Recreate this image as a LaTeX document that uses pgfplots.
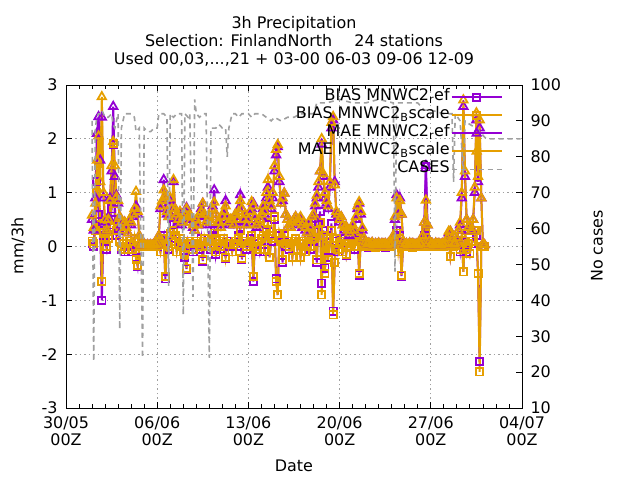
\documentclass[border=0pt]{standalone}
\usepackage{fontspec}
\setmainfont{DejaVu Sans}
\usepackage{pgfplots}
\pgfplotsset{compat=1.18}
\usepackage{pgfplotstable}
\definecolor{cpurple}{RGB}{148,0,211}
\definecolor{corange}{RGB}{230,159,0}
\definecolor{cgray}{RGB}{160,160,160}

\pgfplotstableread{
x b1 b2 m1 m2
2.000 0.05 0.10 0.50 0.58
2.125 0.00 0.05 0.30 0.35
2.250 0.40 0.30 0.90 0.80
2.375 1.20 1.00 2.10 1.60
2.500 0.60 1.55 2.41 2.05
2.625 0.30 0.40 1.60 1.20
2.750 -1.00 -0.65 2.40 2.78
2.875 0.20 0.25 0.90 1.00
3.000 0.10 0.15 0.45 0.50
3.125 -0.05 0.00 0.30 0.30
3.250 0.20 0.15 0.55 0.50
3.375 0.40 0.35 0.90 0.85
3.500 0.70 0.90 1.40 1.50
3.625 1.90 1.92 2.60 1.95
3.750 0.50 0.80 1.30 1.50
3.875 0.20 0.30 0.95 0.92
4.000 0.30 0.40 0.80 0.85
4.125 0.10 0.10 0.55 0.55
4.250 -0.05 0.00 0.40 0.45
4.375 0.05 0.05 0.35 0.30
4.500 -0.10 -0.05 0.45 0.45
4.625 0.00 0.05 0.30 0.35
4.750 -0.05 -0.05 0.25 0.25
4.875 0.05 0.10 0.45 0.50
5.000 0.10 0.10 0.40 0.45
5.125 -0.10 -0.05 0.55 0.60
5.250 0.10 0.15 0.65 0.70
5.375 -0.20 -0.25 0.75 1.02
5.500 -0.37 -0.35 0.60 0.65
5.625 0.00 0.02 0.20 0.20
5.750 0.00 0.00 0.03 0.03
5.875 0.00 0.00 0.03 0.03
6.000 0.00 0.00 0.03 0.03
6.125 0.00 0.00 0.02 0.02
6.250 0.00 0.00 0.03 0.03
6.375 0.00 0.00 0.02 0.02
6.500 0.00 0.00 0.03 0.03
6.625 0.00 0.00 0.02 0.02
6.750 0.00 0.00 0.03 0.03
6.875 0.00 0.00 0.02 0.02
7.000 0.00 0.01 0.05 0.05
7.125 0.05 0.05 0.20 0.20
7.250 -0.10 -0.10 0.70 0.75
7.375 0.10 0.15 0.80 0.85
7.500 0.20 0.15 1.24 1.05
7.625 -0.60 -0.56 0.90 0.90
7.750 0.10 0.05 0.60 0.65
7.875 -0.05 0.00 0.55 0.55
8.000 0.20 0.25 0.85 0.90
8.125 0.10 0.10 0.65 0.70
8.250 0.40 0.30 1.20 1.24
8.375 0.15 0.20 0.70 0.70
8.500 -0.10 -0.10 0.55 0.60
8.625 0.05 0.05 0.45 0.50
8.750 0.10 0.15 0.60 0.65
8.875 0.00 0.00 0.40 0.45
9.000 0.05 0.10 0.50 0.55
9.125 -0.20 -0.15 0.65 0.60
9.250 -0.42 -0.40 0.72 0.70
9.375 0.10 0.10 0.55 0.55
9.500 0.00 0.05 0.45 0.45
9.625 0.05 0.05 0.50 0.55
9.750 -0.10 -0.05 0.35 0.40
9.875 0.05 0.05 0.30 0.30
10.000 0.10 0.10 0.45 0.50
10.125 0.05 0.05 0.40 0.40
10.250 -0.05 0.00 0.55 0.60
10.375 0.15 0.10 0.70 0.65
10.500 -0.27 -0.25 0.80 0.80
10.625 0.10 0.15 0.55 0.60
10.750 0.00 0.00 0.40 0.45
10.875 0.05 0.10 0.50 0.50
11.000 0.10 0.10 0.55 0.55
11.125 -0.05 0.00 0.45 0.45
11.250 0.20 0.15 0.75 0.70
11.375 0.30 0.25 1.05 0.82
11.500 -0.15 -0.10 0.60 0.60
11.625 0.05 0.05 0.40 0.45
11.750 0.10 0.10 0.45 0.45
11.875 -0.05 0.00 0.35 0.35
12.000 0.05 0.10 0.50 0.55
12.125 0.15 0.15 0.60 0.65
12.250 -0.22 -0.20 0.85 0.75
12.375 0.10 0.05 0.55 0.55
12.500 0.00 0.05 0.40 0.45
12.625 0.05 0.05 0.45 0.50
12.750 -0.10 -0.10 0.50 0.50
12.875 0.05 0.05 0.40 0.40
13.000 0.10 0.10 0.55 0.60
13.125 0.00 0.05 0.50 0.50
13.250 0.20 0.15 0.70 0.65
13.375 0.35 0.30 0.96 0.85
13.500 -0.24 -0.22 0.70 0.70
13.625 0.05 0.10 0.45 0.50
13.750 0.10 0.10 0.55 0.60
13.875 -0.05 0.00 0.40 0.40
14.000 0.05 0.05 0.45 0.50
14.125 0.15 0.10 0.60 0.65
14.250 0.20 0.20 0.70 0.83
14.375 -0.65 -0.56 0.80 0.75
14.500 0.05 0.10 0.50 0.55
14.625 0.00 0.00 0.35 0.40
14.750 0.10 0.10 0.40 0.45
14.875 -0.10 -0.05 0.50 0.50
15.000 0.10 0.15 0.55 0.60
15.125 0.20 0.20 0.70 0.75
15.250 -0.10 -0.05 0.60 0.65
15.375 0.30 0.30 0.90 1.00
15.500 0.40 0.45 1.10 1.24
15.625 -0.20 -0.20 0.80 0.85
15.750 0.10 0.15 0.70 0.75
15.875 0.20 0.20 0.90 1.00
16.000 0.50 0.55 1.40 1.50
16.125 -0.60 -0.65 1.70 1.80
16.250 -0.90 -0.90 1.85 1.89
16.375 0.20 0.25 1.20 1.30
16.500 0.10 0.10 0.80 0.80
16.625 -0.30 -0.25 0.85 0.90
16.750 0.20 0.25 0.99 0.99
16.875 0.00 0.05 0.60 0.60
17.000 0.10 0.10 0.50 0.50
17.125 -0.05 0.00 0.40 0.40
17.250 0.05 0.05 0.35 0.35
17.375 -0.20 -0.20 0.45 0.45
17.500 0.10 0.10 0.50 0.50
17.625 0.15 0.15 0.55 0.55
17.750 -0.05 -0.05 0.40 0.45
17.875 0.10 0.10 0.45 0.50
18.000 -0.20 -0.20 0.50 0.55
18.125 0.05 0.05 0.35 0.40
18.250 0.10 0.10 0.40 0.45
18.375 -0.10 -0.10 0.30 0.35
18.500 0.00 0.00 0.25 0.25
18.625 0.10 0.15 0.40 0.45
18.750 -0.05 0.00 0.35 0.35
18.875 0.20 0.20 0.50 0.55
19.000 0.10 0.15 0.55 0.60
19.125 0.30 0.30 0.75 0.80
19.250 -0.30 -0.25 0.90 0.95
19.375 0.40 0.30 1.10 1.20
19.500 0.65 0.45 1.40 1.40
19.625 -0.68 -0.90 1.90 2.00
19.750 0.30 0.20 1.30 1.35
19.875 -0.40 -0.50 0.90 1.00
20.000 0.20 0.15 0.80 0.85
20.125 -0.20 -0.25 0.70 0.75
20.250 0.10 0.10 1.10 1.20
20.375 0.43 0.30 2.20 2.30
20.500 -1.20 -1.27 2.35 2.41
20.625 -0.30 -0.30 1.20 1.14
20.750 0.10 0.15 0.60 0.65
20.875 -0.10 -0.05 0.55 0.60
21.000 0.05 0.05 0.45 0.50
21.125 0.15 0.10 0.55 0.55
21.250 -0.10 -0.10 0.40 0.40
21.375 0.05 0.05 0.30 0.35
21.500 -0.16 -0.15 0.37 0.37
21.625 0.05 0.10 0.30 0.30
21.750 0.00 0.00 0.20 0.25
21.875 0.05 0.05 0.25 0.30
22.000 0.10 0.10 0.35 0.40
22.125 -0.05 0.00 0.30 0.30
22.250 0.15 0.15 0.50 0.55
22.375 0.25 0.20 0.70 0.75
22.500 -0.53 -0.50 0.80 0.83
22.625 0.10 0.10 0.60 0.65
22.750 0.05 0.05 0.30 0.35
22.875 0.00 0.00 0.15 0.15
23.000 0.00 0.00 0.08 0.08
23.125 0.02 0.02 0.05 0.05
23.250 -0.02 0.00 0.06 0.06
23.375 0.00 0.00 0.04 0.04
23.500 0.03 0.03 0.07 0.07
23.625 0.00 0.00 0.03 0.03
23.750 -0.02 -0.02 0.05 0.05
23.875 0.00 0.00 0.04 0.04
24.000 0.01 0.01 0.06 0.06
24.125 0.00 0.00 0.03 0.03
24.250 0.02 0.02 0.05 0.05
24.375 0.00 0.00 0.04 0.04
24.500 -0.01 0.00 0.05 0.05
24.625 0.00 0.00 0.03 0.03
24.750 0.02 0.02 0.06 0.06
24.875 0.00 0.00 0.04 0.04
25.000 0.00 0.00 0.05 0.05
25.125 0.05 0.05 0.20 0.20
25.250 0.15 0.15 0.50 0.55
25.375 0.30 0.25 0.96 0.90
25.500 -0.10 -0.10 0.60 0.65
25.625 0.20 0.15 0.90 0.85
25.750 -0.55 -0.53 0.60 0.60
25.875 0.00 0.00 0.10 0.10
26.000 0.00 0.00 0.04 0.04
26.125 0.01 0.01 0.05 0.05
26.250 0.00 0.00 0.03 0.03
26.375 0.02 0.02 0.06 0.06
26.500 0.00 0.00 0.04 0.04
26.625 -0.01 -0.01 0.05 0.05
26.750 0.00 0.00 0.03 0.03
26.875 0.01 0.01 0.04 0.04
27.000 0.00 0.00 0.03 0.03
27.125 0.02 0.02 0.06 0.06
27.250 0.00 0.00 0.05 0.05
27.375 0.05 0.05 0.20 0.20
27.500 0.20 0.10 0.45 0.45
27.625 1.48 0.30 1.50 0.86
27.750 0.10 0.10 0.40 0.40
27.875 0.00 0.00 0.10 0.10
28.000 0.00 0.00 0.04 0.04
28.125 0.01 0.01 0.05 0.05
28.250 0.00 0.00 0.03 0.03
28.375 0.02 0.02 0.06 0.06
28.500 0.00 0.00 0.04 0.04
28.625 0.01 0.01 0.05 0.05
28.750 0.00 0.00 0.03 0.03
28.875 0.02 0.02 0.05 0.05
29.000 0.00 0.00 0.04 0.04
29.125 0.01 0.01 0.06 0.06
29.250 0.05 0.05 0.15 0.15
29.375 0.10 0.10 0.25 0.28
29.500 -0.19 -0.19 0.28 0.28
29.625 0.05 0.05 0.15 0.15
29.750 0.00 0.00 0.05 0.05
29.875 0.02 0.02 0.06 0.06
30.000 0.05 0.05 0.15 0.15
30.125 0.10 0.10 0.30 0.30
30.250 -0.10 -0.05 0.40 0.45
30.375 0.20 0.25 0.90 1.00
30.500 -0.47 -0.47 2.60 2.72
30.625 0.30 0.30 1.30 1.40
30.750 -0.10 -0.05 0.50 0.50
30.875 0.05 0.05 0.30 0.35
31.000 -0.13 -0.13 0.40 0.40
31.125 0.05 0.10 0.30 0.30
31.250 0.10 0.10 0.50 0.50
31.375 0.30 0.30 1.00 1.10
31.500 0.20 0.30 2.35 2.48
31.625 -0.50 -0.50 1.20 1.30
31.750 -2.14 -2.33 2.20 2.35
31.875 0.00 0.00 0.90 0.90
32.000 0.00 0.00 0.05 0.05
32.125 0.00 0.00 0.03 0.03
}\scores

\pgfplotstableread{
x c
2.000 90
2.125 23
2.250 88
2.375 91
2.500 92
2.625 92
2.750 93
2.875 92
3.000 91
3.250 91
3.500 92
3.625 89
3.750 88
4.000 92
4.125 32
4.250 88
4.500 92
4.750 92
5.000 92
5.250 91
5.375 87
5.625 88
5.875 24
6.000 88
6.250 87
6.500 87
6.750 88
7.000 88
7.125 92
7.500 92
7.750 91
7.875 44
8.000 92
8.250 91
8.500 92
8.875 92
9.000 36
9.125 92
9.375 91
9.500 92
9.750 41
9.875 96
10.000 92
10.250 91
10.500 92
10.750 92
11.000 24
11.125 88
11.500 88
11.750 89
12.000 88
12.250 88
12.375 80
12.500 88
12.750 92
13.000 92
13.250 91
13.500 92
14.000 92
14.250 91
14.500 92
15.000 92
15.375 91
15.750 90
16.000 91
16.500 90
17.000 91
17.500 91
18.000 92
18.500 92
19.000 92
19.250 95
20.000 95
21.000 96
22.000 95
23.000 95
24.000 96
25.125 95
25.250 48
25.375 95
26.000 95
27.000 95
27.500 93
28.000 93
29.000 92
29.625 92
29.750 73
29.875 92
30.250 90
30.500 75
30.625 90
31.000 89
31.500 88
32.000 86
32.250 85
34.900 85
}\cases

\pgfplotsset{
  biasref/.style={cpurple, line width=2bp, mark=square, mark size=3.6bp, mark options={solid, line width=1.8bp}},
  biasbs/.style={corange, line width=2bp, mark=square, mark size=3.6bp, mark options={solid, line width=1.8bp}},
  maeref/.style={cpurple, line width=2bp, mark=triangle, mark size=4.8bp, mark options={solid, line width=1.8bp}},
  maebs/.style={corange, line width=2bp, mark=triangle, mark size=4.8bp, mark options={solid, line width=1.8bp}},
}

\begin{document}
\begin{tikzpicture}[font=\fontsize{16}{18}\selectfont]
\begin{axis}[
  at={(66bp,72bp)}, anchor=south west,
  scale only axis, width=456bp, height=323bp,
  xmin=0, xmax=35, ymin=-3, ymax=3,
  xtick={0,7,14,21,28,35},
  xticklabels={{30/05\\00Z},{06/06\\00Z},{13/06\\00Z},{20/06\\00Z},{27/06\\00Z},{04/07\\00Z}},
  xticklabel style={align=center, font=\fontsize{16}{17}\selectfont, yshift=-5bp},
  minor x tick num=6,
  ytick={-3,-2,-1,0,1,2,3},
  yticklabels={-3,-2,-1,0,1,2,3},
  yticklabel style={xshift=-5bp},
  ytick pos=left, xtick pos=both,
  tick align=inside,
  major tick length=6bp, minor tick length=4bp,
  tick style={black, line width=0.8bp},
  axis line style={line width=0.8bp},
  grid=major,
  grid style={cgray, line width=0.8bp, dash pattern=on 1.5bp off 3bp},
  clip=true,
]
\addplot[biasref] table[x=x,y=b1]{\scores};
\addplot[biasbs] table[x=x,y=b2]{\scores};
\addplot[maeref] table[x=x,y=m1]{\scores};
\addplot[maebs] table[x=x,y=m2]{\scores};
\end{axis}
\begin{axis}[
  at={(66bp,72bp)}, anchor=south west,
  scale only axis, width=456bp, height=323bp,
  xmin=0, xmax=35, ymin=10, ymax=100,
  axis x line=none, axis y line*=right,
  ytick={10,20,30,40,50,60,70,80,90,100},
  yticklabels={10,20,30,40,50,60,70,80,90,100},
  yticklabel style={xshift=5bp},
  tick align=inside, major tick length=6bp,
  tick style={black, line width=0.8bp},
  axis line style={line width=0.8bp},
  legend image code/.code={\draw[mark repeat=2,mark phase=2] plot coordinates {(0bp,0bp) (25bp,0bp) (50bp,0bp)};},
  legend style={at={(0.958,0.99)}, anchor=north east, draw=none, fill=none,
    font=\fontsize{16}{17}\selectfont, inner sep=0pt,
    nodes={text height=11.5bp, text depth=4.5bp, inner sep=1bp}},
  legend cell align=right, legend plot pos=right,
]
\addlegendimage{biasref}
\addlegendentry{BIAS MNWC2\textsubscript{r}ef}
\addlegendimage{biasbs}
\addlegendentry{BIAS MNWC2\textsubscript{B}scale}
\addlegendimage{maeref}
\addlegendentry{MAE MNWC2\textsubscript{r}ef}
\addlegendimage{maebs}
\addlegendentry{MAE MNWC2\textsubscript{B}scale}
\addplot[cgray, line width=1.6bp, dash pattern=on 5bp off 4bp] table[x=x,y=c]{\cases};
\addlegendentry{CASES}
\end{axis}
\node[anchor=base] at (294bp,451bp) {3h Precipitation};
\node[anchor=base] at (294bp,433bp) {Selection: FinlandNorth\hspace{1.4em}24 stations};
\node[anchor=base] at (294bp,415bp) {Used 00,03,...,21 + 03-00 06-03 09-06 12-09};
\node[rotate=90] at (18bp,234bp) {mm/3h};
\node[rotate=90] at (597bp,234bp) {No cases};
\node[anchor=base] at (294bp,9bp) {Date};
\pgfresetboundingbox
\useasboundingbox (0,0) rectangle (640bp,480bp);
\end{tikzpicture}
\end{document}
